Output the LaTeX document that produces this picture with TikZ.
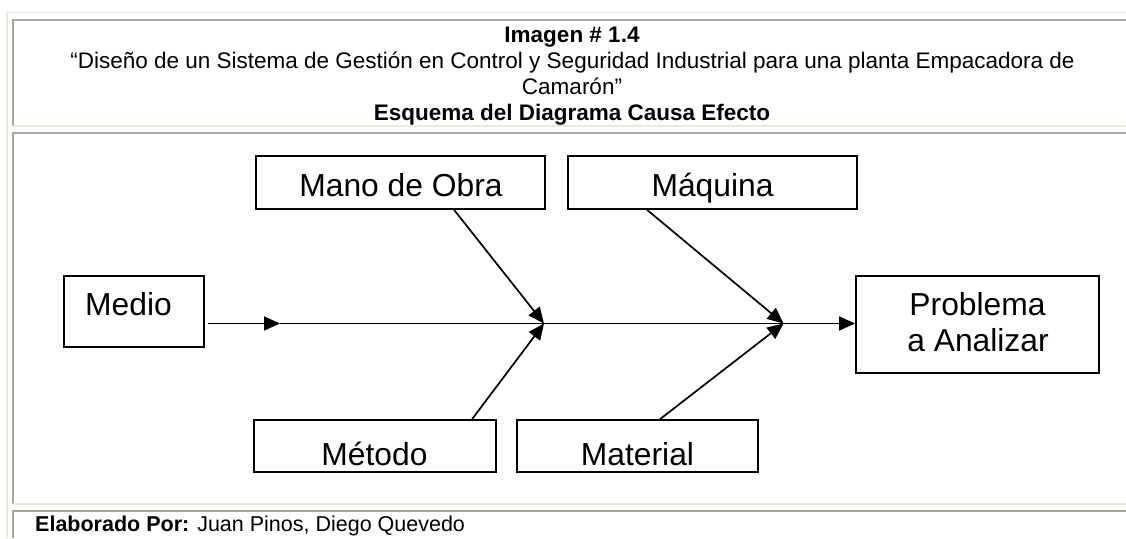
\documentclass[tikz,border=0pt]{standalone}
\usepackage{fontspec}
\setmainfont{Liberation Sans}
\usetikzlibrary{arrows.meta}
\definecolor{celldark}{RGB}{172,168,153}
\definecolor{celllight}{RGB}{236,233,216}
\tikzset{
  ttl/.style={anchor=base, inner sep=0pt, font=\fontsize{22.5}{26}\selectfont},
  ttlb/.style={anchor=base, inner sep=0pt, font=\fontsize{22.5}{26}\selectfont\bfseries},
  lbl/.style={anchor=base, inner sep=0pt, font=\fontsize{31.8}{36.6}\selectfont},
  box/.style={draw, line width=1.8pt, rectangle, inner sep=0pt},
  ln/.style={line width=1.7pt},
  tri/.style={-{Triangle[length=16pt,width=14pt]}},
  darkline/.style={celldark, line width=1.3pt},
  lightline/.style={celllight, line width=1.1pt}
}
\begin{document}
\begin{tikzpicture}[x=1pt,y=-1pt]
\useasboundingbox (0,0) rectangle (1126,538);
\fill[white] (0,0) rectangle (1126,538);
% table borders
\draw[lightline] (7,538) -- (7,12.5) -- (1126,12.5);
\draw[darkline] (13,126) -- (13,20) -- (1126,20);
\draw[lightline] (13,126) -- (1126,126);
\draw[darkline] (13,504) -- (13,133) -- (1126,133);
\draw[lightline] (13,504) -- (1126,504);
\draw[darkline] (13,538) -- (13,511) -- (1126,511);
% titles
\node[ttlb] (t1) at (572,42.5) {Imagen \# 1.4};
\node[ttl] (t2) at (572.5,68.3) {“Diseño de un Sistema de Gestión en Control y Seguridad Industrial para una planta Empacadora de};
\node[ttl] (t3) at (572,94.2) {Camarón”};
\node[ttlb] (t4) at (572,120) {Esquema del Diagrama Causa Efecto};
% boxes
\node[box, minimum width=289pt, minimum height=53pt] (mano) at (400.5,182.5) {};
\node[box, minimum width=289pt, minimum height=53pt] (maq) at (712.5,182.5) {};
\node[box, minimum width=140pt, minimum height=71pt] (medio) at (134,311.5) {};
\node[box, minimum width=243pt, minimum height=97pt] (prob) at (977.5,324.5) {};
\node[box, minimum width=242pt, minimum height=52pt] (met) at (375,446) {};
\node[box, minimum width=241pt, minimum height=52pt] (mat) at (637.5,446) {};
% labels
\node[lbl] (lmano) at (401,196) {Mano de Obra};
\node[lbl] (lmaq) at (712.5,196.5) {Máquina};
\node[lbl] (lmedio) at (128.5,315) {Medio};
\node[lbl] (lp1) at (977.5,315) {Problema};
\node[lbl] (lp2) at (978,351.7) {a Analizar};
\node[lbl] (lmet) at (374.5,465) {Método};
\node[lbl] (lmat) at (637.5,465) {Material};
% spine
\coordinate (s0) at (208,323.5);
\coordinate (a1) at (280,323.5);
\coordinate (j1) at (544,323.5);
\coordinate (j2) at (783.5,323.5);
\draw[ln,tri] (s0) -- (a1);
\draw[ln] (a1) -- (j2);
\draw[ln,tri] (j2) -- (prob.west |- j2);
% branches
\draw[ln,tri] ([xshift=199pt]mano.south west) -- (j1);
\draw[ln,tri] ([xshift=219pt]met.north west) -- (j1);
\draw[ln,tri] ([xshift=80pt]maq.south west) -- (j2);
\draw[ln,tri] ([xshift=144pt]mat.north west) -- (j2);
% footer
\node[anchor=base west, inner sep=0pt, font=\fontsize{21.5}{25}\selectfont] (foot) at (35,531.7) {\textbf{Elaborado Por:} Juan Pinos, Diego Quevedo};
\end{tikzpicture}
\end{document}
